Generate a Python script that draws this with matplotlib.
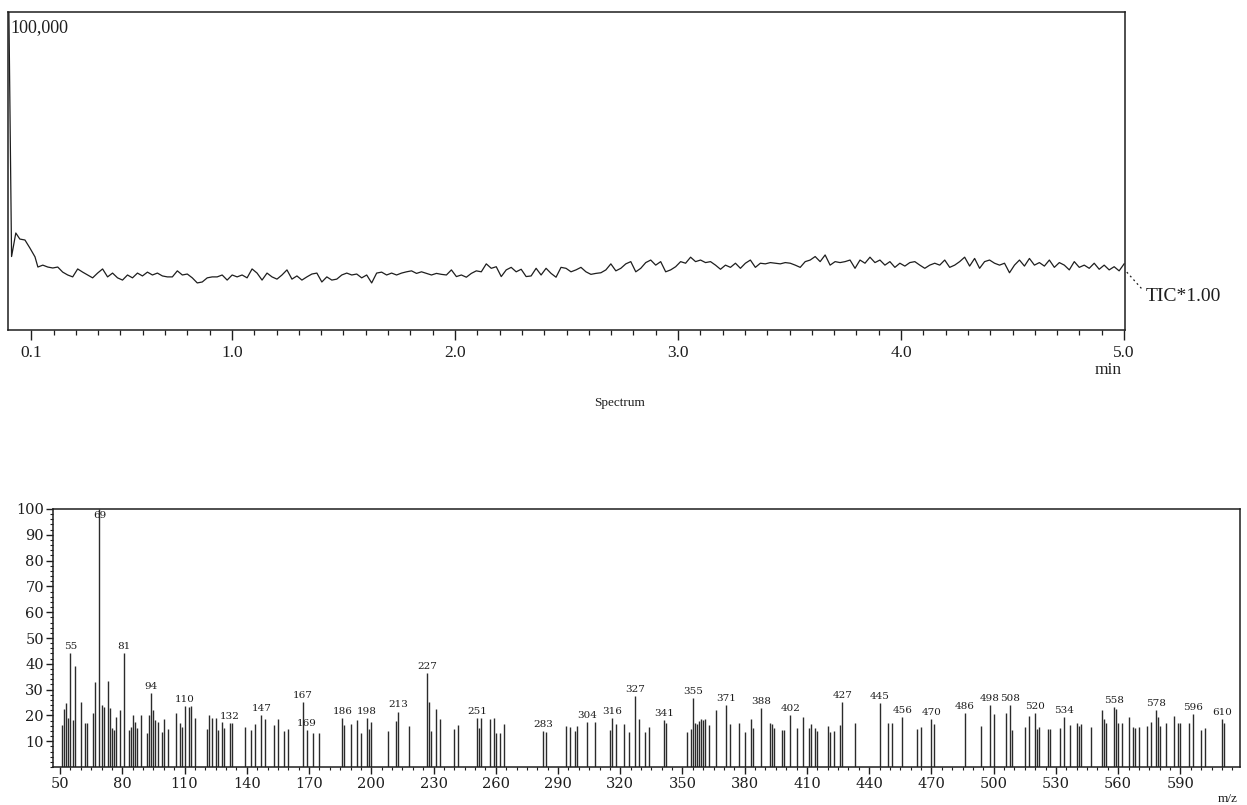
import numpy as np
import matplotlib
matplotlib.use("Agg")
import matplotlib.pyplot as plt
from matplotlib.ticker import FixedLocator, MultipleLocator

plt.rcParams['font.family'] = ['Liberation Serif', 'DejaVu Serif']

# ---------------- TIC chromatogram (intensity in thousands of counts) ----------------
tic_start_time = [0.0, 0.012, 0.031, 0.049, 0.072, 0.094, 0.117, 0.130]
tic_start_vals = [100.0, 23.1, 30.5, 28.6, 28.3, 25.8, 23.0, 19.8]

tic_vals = [
    20.4, 19.8, 19.5, 19.8, 18.2, 17.3, 16.7, 19.2, 18.2, 17.3, 16.4, 17.9, 19.2, 16.7, 17.9,
    16.4, 15.7, 17.3, 16.4, 17.9, 17.0, 18.2, 17.3, 17.9, 17.0, 16.7, 16.7, 18.6, 17.3, 17.6,
    16.4, 14.8, 15.1, 16.4, 16.7, 16.7, 17.3, 15.7, 17.3, 16.7, 17.3, 16.4, 19.2, 17.9, 15.7,
    17.9, 16.7, 16.0, 17.3, 18.9, 16.0, 17.0, 15.7, 16.7, 17.6, 17.9, 15.1, 16.7, 15.7, 16.0,
    17.3, 17.9, 17.3, 17.6, 16.4, 17.3, 14.8, 17.9, 18.2, 17.3, 17.9, 17.3, 17.9,
    18.3, 18.6, 17.8, 18.3, 17.8, 17.3, 17.8, 17.5, 17.3, 18.9, 16.8, 17.3, 16.6, 17.8, 18.6,
    18.3, 20.8, 19.4, 19.9, 16.8, 18.9, 19.7, 18.3, 19.1, 16.8, 17.0, 19.4, 17.3, 19.4, 17.8,
    16.6, 19.7, 19.4, 18.3, 18.9, 19.7, 18.3, 17.5, 17.8, 18.0, 18.9, 20.8, 18.6, 19.4, 20.8,
    21.5, 18.3, 19.4, 21.2, 22.0, 20.4, 21.5, 18.3, 18.9, 19.9, 21.5, 21.0, 22.9, 21.5, 22.0,
    21.2, 21.5, 20.4, 19.1, 20.4, 19.7, 21.0, 19.4, 21.0, 22.0, 19.7, 21.0, 20.8, 21.2, 21.0,
    20.8, 21.2, 21.0, 20.4, 19.7, 21.5, 22.0, 23.1, 21.5, 23.6, 20.4, 21.5, 21.2, 21.5, 22.0,
    19.4, 22.0, 21.0, 22.9, 21.2, 22.0, 20.4, 21.5, 19.7, 21.0, 20.1, 21.2, 21.5, 20.4, 19.4,
    20.4, 21.0, 20.4, 22.0, 19.7, 20.4, 21.5, 22.9, 20.1, 22.5, 19.4, 21.5, 22.0, 21.0, 20.4,
    21.0, 18.0, 20.4, 22.0, 20.1, 22.5, 20.4, 21.2, 20.1, 22.0, 19.7, 21.2, 20.4, 18.9, 21.5,
    19.7, 20.4, 19.4, 21.0, 19.1, 20.4, 18.9, 19.9, 18.6, 20.8,
]
tic_time = np.concatenate([tic_start_time, np.linspace(0.152, 5.0, len(tic_vals))])
tic_int = np.concatenate([tic_start_vals, tic_vals]) * 1000.0

time_ticks = [0.1, 1.0, 2.0, 3.0, 4.0, 5.0]
time_labels = ['0.1', '1.0', '2.0', '3.0', '4.0', '5.0']

# ---------------- Mass spectrum ----------------
mz = [
    51, 52, 53, 54, 55, 56, 57, 60, 62, 63, 66, 67, 69, 70, 71, 73, 74, 75, 76, 77, 79, 81,
    83, 84, 85, 86, 87, 89, 92, 93, 94, 95, 96, 97, 99, 100, 102, 106, 108, 109, 110, 112,
    113, 115, 121, 122, 123, 125, 126, 128, 129, 132, 133, 139, 142, 144, 147, 149, 153, 155,
    158, 160,
    167, 169, 172, 175, 186, 187, 190, 193, 195, 198, 199, 200, 208, 212, 213, 218, 227, 228,
    229, 231, 233, 240, 242, 251, 252, 253, 257, 259, 260, 262, 264,
    283, 284, 294, 296, 298, 299, 304, 308, 315, 316, 318, 322, 324, 327, 329, 332, 334, 341,
    342, 352, 354, 355, 356, 357, 358, 359, 360, 361, 363, 366, 371, 373, 377, 380, 383, 384,
    388, 392, 393,
    394, 398, 399, 402, 405, 408, 411, 412, 414, 415, 420, 421, 423, 426, 427, 433, 445, 449,
    451, 456, 463, 465, 470, 471, 486, 494, 498, 500, 506, 508, 509,
    515, 517, 520, 521, 522, 526, 527, 532, 534, 537, 540, 541, 542, 547, 552, 553, 554, 558,
    559, 560, 562, 565, 567, 568, 570, 574, 576, 578, 579, 580, 583, 587, 589, 590, 594, 596,
    600, 602, 610, 611,
]
intensity = [
    16.3, 22.3, 24.7, 18.9, 44.0, 18.2, 39.1, 25.3, 16.9, 16.9, 21.0, 33.0, 100.0, 24.0, 23.1,
    33.5, 22.7, 15.0, 14.3, 19.5, 22.2, 44.0,
    14.3, 15.6, 20.2, 17.6, 15.0, 20.2, 13.3, 20.2, 28.6, 22.0, 18.2, 17.6, 13.7, 18.5, 14.6,
    21.0, 16.9, 15.6, 23.6, 23.1,
    23.6, 19.1, 14.6, 20.2, 19.1, 19.1, 14.3, 17.6, 15.0, 16.9, 16.9, 15.6, 14.3, 16.5, 20.2,
    18.5, 16.3, 18.5,
    14.0, 14.6,
    25.3, 14.5, 13.3, 13.3, 19.0, 16.3, 16.5, 18.2, 13.3, 19.0, 14.6, 17.6, 14.0, 18.0, 21.5,
    15.9, 36.6, 25.3,
    14.0, 22.3, 18.5, 14.6, 16.3, 19.0, 15.0, 19.0, 18.5, 19.0, 13.3, 13.3, 16.7,
    14.0, 13.5, 15.9, 15.6, 14.0, 15.9, 17.6, 17.6, 14.3, 19.0, 16.5, 16.5, 13.7, 27.5, 18.5,
    13.7, 15.5, 18.2,
    17.2, 13.7, 14.6, 26.9, 16.9, 16.5, 17.8, 18.5, 18.2, 18.5, 16.3, 22.0, 24.0, 16.5, 17.2,
    13.7, 18.5, 15.0,
    22.7, 17.2, 16.5,
    15.0, 14.3, 14.3, 20.2, 15.2, 19.5, 15.0, 16.5, 15.0, 14.0, 15.9, 13.7, 14.0, 16.3, 25.3,
    17.2, 24.7, 17.2,
    17.2, 19.3, 14.6, 15.5, 18.7, 16.5, 20.9, 15.9, 24.2, 20.6, 21.0, 24.0, 14.3,
    15.6, 19.8, 20.9, 14.6, 15.6, 14.6, 14.8, 15.0, 19.3, 16.3, 17.2, 15.9, 16.7, 15.6, 22.1,
    18.5, 17.2, 23.3,
    22.3, 16.9, 16.9, 19.3, 15.6, 15.0, 15.5, 15.9, 17.6, 22.0, 19.5, 15.9, 16.9, 19.8, 17.2,
    16.9, 17.2, 20.5,
    14.3, 15.2, 18.5, 17.2,
]
labeled_mz = [55, 69, 81, 94, 110, 132, 147, 167, 169, 186, 198, 213, 227, 251, 283, 304,
              316, 327, 341, 355, 371, 388, 402, 427, 445, 456, 470, 486, 498, 508, 520, 534,
              558, 578, 596, 610]
mz_ticks = list(range(50, 591, 30))

# ---------------- Figure ----------------
W, H = 1247, 805
fig = plt.figure(figsize=(W / 100, H / 100), dpi=100)
fig.patch.set_facecolor('white')

ink = '#1e1e1e'
spec_font = ['DejaVu Serif']

# Top panel: TIC
ax1 = fig.add_axes([8 / W, 1 - 330 / H, (1125 - 8) / W, (330 - 12) / H])
ax1.plot(tic_time, tic_int, color=ink, lw=0.9)
ax1.set_xlim(-0.004, 5.004)
ax1.set_ylim(0, 100000)
ax1.set_yticks([])
ax1.xaxis.set_major_locator(FixedLocator(time_ticks))
ax1.set_xticklabels(time_labels, fontsize=12.5)
ax1.xaxis.set_minor_locator(FixedLocator(np.round(np.arange(0.1, 5.0, 0.1), 2)))
ax1.tick_params(axis='x', which='major', direction='out', length=7, width=1.0, pad=4, colors=ink)
ax1.tick_params(axis='x', which='minor', direction='out', length=3.5, width=0.9, colors=ink)
for s in ax1.spines.values():
    s.set_color(ink)
    s.set_linewidth(1.1)
ax1.text(0.002, 0.978, '100,000', transform=ax1.transAxes, ha='left', va='top',
         fontsize=13, color=ink)
ax1.plot([5.012, 5.085], [18200, 12500], color=ink, lw=0.9, ls=(0, (1.5, 2.5)), clip_on=False)
ax1.text(5.095, 10500, 'TIC*1.00', ha='left', va='center', fontsize=14, color=ink,
         clip_on=False)
fig.text(1108 / W, 1 - 370 / H, 'min', ha='center', va='center', fontsize=12.5, color=ink)

fig.text(620 / W, 1 - 403 / H, 'Spectrum', ha='center', va='center', fontsize=9.5, color=ink)

# Bottom panel: mass spectrum
ax2 = fig.add_axes([53 / W, 1 - 767 / H, (1240 - 53) / W, (767 - 509) / H])
ax2.vlines(mz, 0, intensity, color='#2b2b2b', lw=1.0)
ax2.set_xlim(46.6, 618.7)
ax2.set_ylim(0, 100)
ax2.set_yticks(range(10, 101, 10))
ax2.set_yticklabels([str(v) for v in range(10, 101, 10)], fontsize=10.5, family=spec_font)
ax2.yaxis.set_minor_locator(MultipleLocator(2))
ax2.set_xticks(mz_ticks)
ax2.set_xticklabels([str(v) for v in mz_ticks], fontsize=10.5, family=spec_font)
ax2.xaxis.set_minor_locator(MultipleLocator(5))
ax2.tick_params(axis='both', which='major', direction='out', length=5, width=1.0, colors=ink)
ax2.tick_params(axis='y', which='major', pad=1.5)
ax2.tick_params(axis='x', which='major', pad=2)
ax2.tick_params(axis='both', which='minor', direction='out', length=2.5, width=0.8, colors=ink)
for s in ax2.spines.values():
    s.set_color(ink)
    s.set_linewidth(1.1)

for m in labeled_mz:
    h = intensity[mz.index(m)]
    if h >= 99:
        ax2.text(m, 99.3, str(m), ha='center', va='top', fontsize=7.5, color=ink,
                 family=spec_font)
    else:
        ax2.text(m, h + 0.8, str(m), ha='center', va='bottom', fontsize=7.5, color=ink,
                 family=spec_font)

fig.text(1228 / W, 1 - 799 / H, 'm/z', ha='center', va='center', fontsize=9.5, color=ink)

fig.savefig('out.png', dpi=100, facecolor='white')
